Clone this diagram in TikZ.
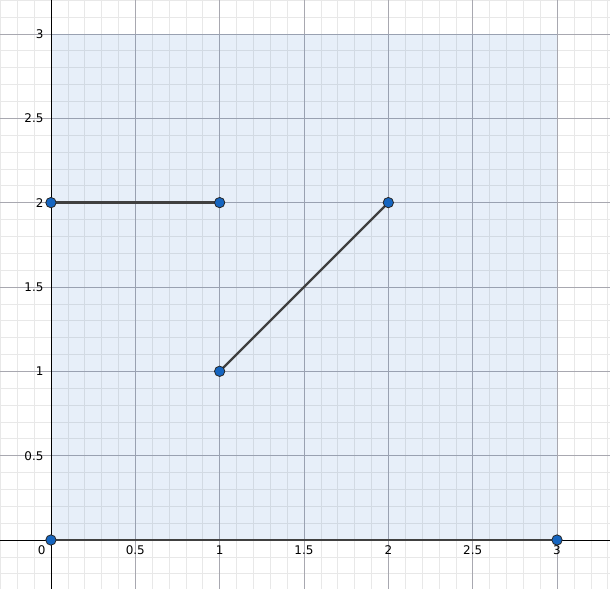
\documentclass[tikz,border=0pt]{standalone}
\usepackage{fontspec}
\setmainfont{DejaVu Sans}
\definecolor{ptblue}{RGB}{21,101,192}
\definecolor{seggray}{RGB}{64,64,64}
\definecolor{minorgray}{RGB}{232,232,232}
\definecolor{majorgray}{RGB}{168,168,176}

\begin{document}
\begin{tikzpicture}[x=5.951cm,y=5.951cm,font=\fontsize{12}{14}\selectfont]
        \useasboundingbox (-0.302,-0.290) rectangle (3.314,3.201);
        \draw[minorgray,line width=0.6pt] (-0.302,-0.290) grid[step=0.1] (3.314,3.201);
        \draw[majorgray,line width=0.7pt] (-0.302,-0.290) grid[step=0.5] (3.314,3.201);
        \fill[ptblue,opacity=0.1] (0,0) rectangle (3,3);
        \draw[black,line width=0.8pt] (-0.302,0) -- (3.314,0);
        \draw[black,line width=0.8pt] (0,-0.290) -- (0,3.201);
        \node[below left,xshift=-2pt,yshift=-2pt] at (0,0) {0};
        \foreach \x in {0.5,1,1.5,2,2.5,3}
            \node[below,yshift=-2pt] at (\x,0) {\x};
        \foreach \y in {0.5,1,1.5,2,2.5,3}
            \node[left,xshift=-4pt] at (0,\y) {\y};
        \coordinate (o) at (0,0);
        \coordinate (c) at (3,0);
        \coordinate (p) at (0,2);
        \coordinate (q) at (1,2);
        \coordinate (r) at (1,1);
        \coordinate (s) at (2,2);
        \draw[seggray,line width=2.4pt] (o) -- (c);
        \draw[seggray,line width=2.4pt] (p) -- (q);
        \draw[seggray,line width=2.4pt] (r) -- (s);
        \filldraw[fill=ptblue,draw=black!85,line width=0.8pt] (o) circle (5.2pt);
        \filldraw[fill=ptblue,draw=black!85,line width=0.8pt] (c) circle (5.2pt);
        \filldraw[fill=ptblue,draw=black!85,line width=0.8pt] (p) circle (5.2pt);
        \filldraw[fill=ptblue,draw=black!85,line width=0.8pt] (q) circle (5.2pt);
        \filldraw[fill=ptblue,draw=black!85,line width=0.8pt] (r) circle (5.2pt);
        \filldraw[fill=ptblue,draw=black!85,line width=0.8pt] (s) circle (5.2pt);
    \end{tikzpicture}
\end{document}
